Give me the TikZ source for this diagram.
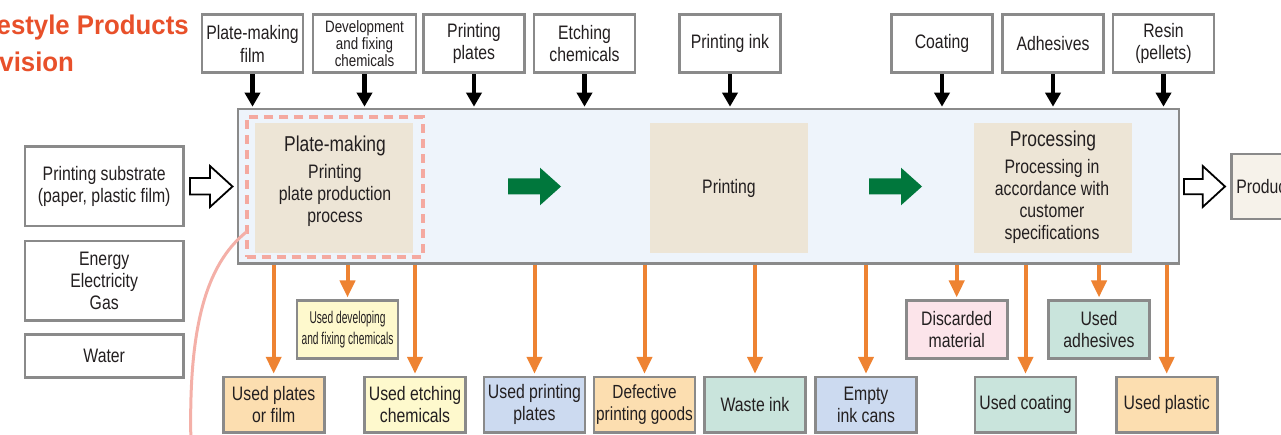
\documentclass[tikz,border=0pt]{standalone}
\usepackage{fontspec}
\setmainfont{Liberation Sans}[FakeStretch=0.81]
\newfontfamily\narrowfont{Liberation Sans}[FakeStretch=0.6]
\newfontfamily\titlefont{Liberation Sans}[FakeStretch=0.955]
\usetikzlibrary{arrows.meta}
\definecolor{boxgray}{HTML}{8A8A8A}
\definecolor{mainblue}{HTML}{EEF4FB}
\definecolor{tan}{HTML}{EDE5D6}
\definecolor{dashpink}{HTML}{F4A9A0}
\definecolor{curvepink}{HTML}{F4B0A8}
\definecolor{orng}{HTML}{EE8332}
\definecolor{grn}{HTML}{00773C}
\definecolor{lorange}{HTML}{FCDEB0}
\definecolor{lyellow}{HTML}{FEF9CD}
\definecolor{lblue}{HTML}{CCDAF0}
\definecolor{lgreen}{HTML}{C9E4DC}
\definecolor{lpink}{HTML}{FCE4EA}
\definecolor{prodfill}{HTML}{F6F2EA}
\definecolor{titlered}{HTML}{E8502A}
\definecolor{txt}{HTML}{231F20}
\newcommand\szmain{\fontsize{19.5}{22.3}\selectfont}
\newcommand\szsmall{\fontsize{16.5}{17}\selectfont}
\newcommand\szhead{\fontsize{21.5}{24}\selectfont}
\newcommand\sznarrow{\narrowfont\fontsize{17}{20.5}\selectfont}
\newcommand\sztitle{\titlefont\bfseries\fontsize{27}{38}\selectfont}
\begin{document}
\begin{tikzpicture}[x=1pt,y=-1pt,font=\szmain,text=txt,
  topbox/.style={draw=boxgray,line width=2.6pt,fill=white,align=center,inner sep=0pt,minimum width=101pt,minimum height=58pt},
  sidebox/.style={draw=boxgray,line width=2.6pt,fill=white,align=center,inner sep=0pt,minimum width=158.3pt},
  outbox/.style={draw=boxgray,line width=2.6pt,align=center,inner sep=0pt,minimum width=101pt,minimum height=55.5pt},
  midbox/.style={draw=boxgray,line width=2.6pt,align=center,inner sep=0pt,minimum width=101pt,minimum height=57.5pt},
  tanbox/.style={fill=tan,inner sep=0pt},
  blk/.style={line width=4.5pt,-{Triangle[width=15pt,length=14pt]},shorten >=1pt},
  org/.style={orng,line width=4pt,-{Triangle[width=15pt,length=17pt]},shorten >=2pt},
  hollow/.style={draw=black,fill=white,line width=1.8pt,line join=miter},
  ttl/.style={font=\sztitle,text=titlered,inner sep=0pt,anchor=base west}]
\useasboundingbox (0,0) rectangle (1281,435);
\clip (0,0) rectangle (1281,435);

% title
\node[ttl] (ttl1) at (-35,35) {Lifestyle Products};
\node[ttl] (ttl2) at (-26.5,71.7) {Division};

% top input boxes
\node[topbox] (t1) at (252.5,43.8) {Plate-making\\film};
\node[topbox,font=\szsmall,minimum width=103pt] (t2) at (364.5,43.8) {Development\\and fixing\\chemicals};
\node[topbox] (t3) at (474,43.8) {Printing\\plates};
\node[topbox] (t4) at (584.5,43.8) {Etching\\chemicals};
\node[topbox] (t5) at (730,43.8) {Printing ink};
\node[topbox] (t6) at (942,43.8) {Coating};
\node[topbox] (t7) at (1053,43.8) {Adhesives};
\node[topbox] (t8) at (1163.5,43.8) {Resin\\(pellets)};

% main process box
\node[draw=boxgray,line width=2.6pt,fill=mainblue,minimum width=941pt,minimum height=154.5pt,inner sep=0pt] (main) at (708.5,186.25) {};
\node[tanbox,minimum width=158pt,minimum height=130pt] (pm) at (334,187.7) {};
\node[tanbox,minimum width=158pt,minimum height=130pt] (pr) at (729,188) {};
\node[tanbox,minimum width=157.5pt,minimum height=129.4pt] (proc) at (1053,188) {};
\node[draw=dashpink,line width=4pt,dash pattern=on 9pt off 6pt,minimum width=176pt,minimum height=139.7pt,inner sep=0pt] (dash) at (334.7,186.85) {};

\node[anchor=base,font=\szhead,inner sep=0pt] (pmh) at (335,152) {Plate-making};
\node[anchor=base,align=center,inner sep=0pt] (pmb) at (335,222.7) {Printing\\plate production\\process};
\node[inner sep=0pt] (prt) at (729,188) {Printing};
\node[anchor=base,font=\szhead,inner sep=0pt] (proch) at (1053,147) {Processing};
\node[anchor=base,align=center,inner sep=0pt] (procb) at (1052,240) {Processing in\\accordance with\\customer\\specifications};

% green stage arrows
\fill[grn] (508,178.5) -- (540,178.5) -- (540,167.7) -- (561,186.5) -- (540,205.3) -- (540,194.5) -- (508,194.5) -- cycle;
\fill[grn] (869,178.5) -- (901,178.5) -- (901,167.7) -- (922,186.5) -- (901,205.3) -- (901,194.5) -- (869,194.5) -- cycle;

% left boxes
\node[sidebox,minimum height=79.3pt] (sub) at (104.2,186.4) {Printing substrate\\(paper, plastic film)};
\node[sidebox,minimum height=79.3pt] (en) at (104.2,280.7) {Energy\\Electricity\\Gas};
\node[sidebox,minimum height=43pt] (wat) at (104.2,355.8) {Water};

% hollow arrows
\draw[hollow] (190,178) -- (210,178) -- (210,166) -- (232.5,186.5) -- (210,207) -- (210,194.5) -- (190,194.5) -- cycle;
\draw[hollow] (1184,179) -- (1202.7,179) -- (1202.7,166) -- (1225,186.5) -- (1202.7,207) -- (1202.7,194.3) -- (1184,194.3) -- cycle;

% product box
\node[draw=boxgray,line width=2.6pt,fill=prodfill,anchor=west,inner xsep=5pt,inner ysep=0pt,minimum height=65pt] (prod) at (1230,186.5) {Products};

% output boxes
\node[outbox,fill=lorange] (upf) at (273.7,404.8) {Used plates\\or film};
\node[outbox,fill=lyellow] (uec) at (415,404.8) {Used etching\\chemicals};
\node[outbox,fill=lblue] (upp) at (534.5,404.8) {Used printing\\plates};
\node[outbox,fill=lorange,font=\fontsize{19}{22.3}\selectfont] (dpg) at (644.5,404.8) {Defective\\printing goods};
\node[outbox,fill=lgreen] (wi) at (755,404.8) {Waste ink};
\node[outbox,fill=lblue] (eic) at (866,404.8) {Empty\\ink cans};
\node[outbox,fill=lgreen] (uco) at (1025.5,404.8) {Used coating};
\node[outbox,fill=lorange] (upl) at (1166.7,404.8) {Used plastic};
\node[midbox,fill=lyellow,font=\sznarrow] (udf) at (347.5,329.5) {Used developing\\and fixing chemicals};
\node[midbox,fill=lpink] (dm) at (956.7,329.5) {Discarded\\material};
\node[midbox,fill=lgreen] (uad) at (1099,329.5) {Used\\adhesives};

% input arrows
\foreach \n in {t1,t2,t3,t4,t5,t6,t7,t8}
  \draw[blk] (\n.south) -- (\n.south |- main.north);

% output arrows
\foreach \n in {upf,udf,uec,upp,dpg,wi,eic,dm,uco,uad,upl}
  \draw[org] (\n.north |- main.south) -- (\n.north);

% pink curve
\coordinate (cs) at (246.7,231.7);
\coordinate (ce) at (191,445);
\draw[curvepink,line width=3pt] (cs) .. controls (205,265) and (188,330) .. (ce);
\end{tikzpicture}
\end{document}
